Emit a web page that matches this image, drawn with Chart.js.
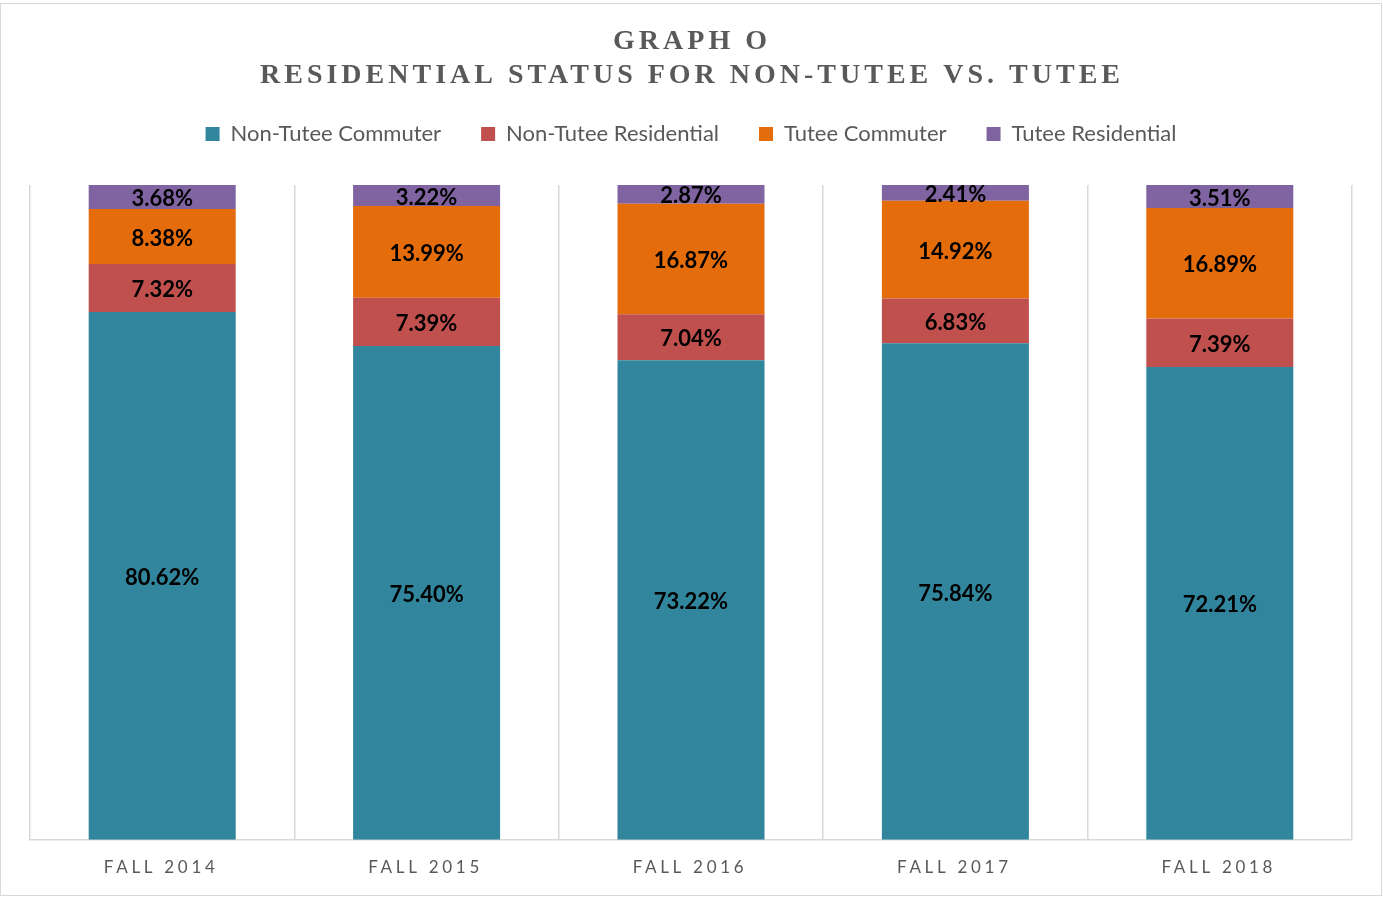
<!DOCTYPE html>
<html>
<head>
<meta charset="utf-8">
<script src="https://cdn.jsdelivr.net/npm/chart.js@4.4.0/dist/chart.umd.min.js"></script>
<style>
  html, body { margin: 0; padding: 0; background: #fff; }
  #wrap {
    position: absolute; left: 0; top: 3px;
    width: 1382px; height: 893px;
    border: 1px solid #d9d9d9; box-sizing: border-box;
  }
</style>
</head>
<body>
<div id="wrap"><canvas id="chart"></canvas></div>
<script>
// data
const categories = ['FALL 2014', 'FALL 2015', 'FALL 2016', 'FALL 2017', 'FALL 2018'];
const nonTuteeCommuter = [80.62, 75.40, 73.22, 75.84, 72.21];
const nonTuteeResidential = [7.32, 7.39, 7.04, 6.83, 7.39];
const tuteeCommuter = [8.38, 13.99, 16.87, 14.92, 16.89];
const tuteeResidential = [3.68, 3.22, 2.87, 2.41, 3.51];
const titleLines = ['GRAPH O', 'RESIDENTIAL STATUS FOR NON-TUTEE VS. TUTEE'];

const textGray = '#595959';

// title and x labels are letter-spaced, so draw them by hand over transparent placeholders
const spacedText = {
  id: 'spacedText',
  afterDraw(chart) {
    const ctx = chart.ctx;
    const tb = chart.titleBlock;
    const cx = chart.width / 2;
    ctx.save();
    ctx.fillStyle = textGray;
    ctx.textAlign = 'center';
    ctx.textBaseline = 'middle';
    ctx.font = 'bold 28px "Liberation Serif"';
    ctx.letterSpacing = '4px';
    titleLines.forEach((line, i) => {
      ctx.fillText(line, cx + 1, tb.top + tb._padding.top + 17 + 34 * i);
    });

    const xs = chart.scales.x;
    ctx.font = '17px Lato';
    ctx.letterSpacing = '3.7px';
    categories.forEach((c, i) => {
      ctx.fillText(c, xs.getPixelForValue(i) - 1, xs.top + 28);
    });
    ctx.restore();
  }
};

const barLabels = {
  id: 'barLabels',
  afterDatasetsDraw(chart) {
    const ctx = chart.ctx;
    ctx.save();
    ctx.fillStyle = '#000';
    ctx.textAlign = 'center';
    ctx.textBaseline = 'middle';
    ctx.font = 'bold 22px Lato';
    chart.data.datasets.forEach((ds, di) => {
      const meta = chart.getDatasetMeta(di);
      meta.data.forEach((bar, i) => {
        const { x, y, base } = bar.getProps(['x', 'y', 'base'], true);
        ctx.fillText(ds.data[i].toFixed(2) + '%', x, (y + base) / 2 + 2);
      });
    });
    ctx.restore();
  }
};

const ctx = document.getElementById('chart').getContext('2d');
new Chart(ctx, {
  type: 'bar',
  data: {
    labels: categories,
    datasets: [
      { label: 'Non-Tutee Commuter', data: nonTuteeCommuter, backgroundColor: '#31859C' },
      { label: 'Non-Tutee Residential', data: nonTuteeResidential, backgroundColor: '#C0504D' },
      { label: 'Tutee Commuter', data: tuteeCommuter, backgroundColor: '#E46C0A' },
      { label: 'Tutee Residential', data: tuteeResidential, backgroundColor: '#8064A2' }
    ]
  },
  options: {
    responsive: true,
    maintainAspectRatio: false,
    animation: false,
    categoryPercentage: 1,
    barPercentage: 0.556,
    layout: { padding: { top: 0, left: 29, right: 29, bottom: 4 } },
    scales: {
      x: {
        stacked: true,
        grid: { display: true, offset: true, color: '#d9d9d9', lineWidth: 1.5, drawTicks: false },
        border: { display: true, color: '#d9d9d9', width: 1.5 },
        ticks: { color: 'transparent', font: { size: 16, family: 'Lato' }, padding: 16 }
      },
      xTop: {
        type: 'category',
        position: 'top',
        labels: categories,
        grid: { display: false },
        border: { display: false },
        ticks: { display: false },
        afterFit: (scale) => { scale.height = 30; }
      },
      y: {
        stacked: true,
        display: false,
        min: 0,
        max: 100
      }
    },
    plugins: {
      title: {
        display: true,
        text: titleLines,
        color: 'transparent',
        font: { family: 'Liberation Serif', size: 28, weight: 'bold', lineHeight: '34px' },
        padding: { top: 21, bottom: -10 }
      },
      legend: {
        position: 'top',
        labels: {
          color: textGray,
          font: { family: 'Lato', size: 22 },
          boxWidth: 14,
          boxHeight: 14,
          padding: 40
        }
      },
      tooltip: { enabled: false }
    }
  },
  plugins: [spacedText, barLabels]
});
</script>
</body>
</html>
